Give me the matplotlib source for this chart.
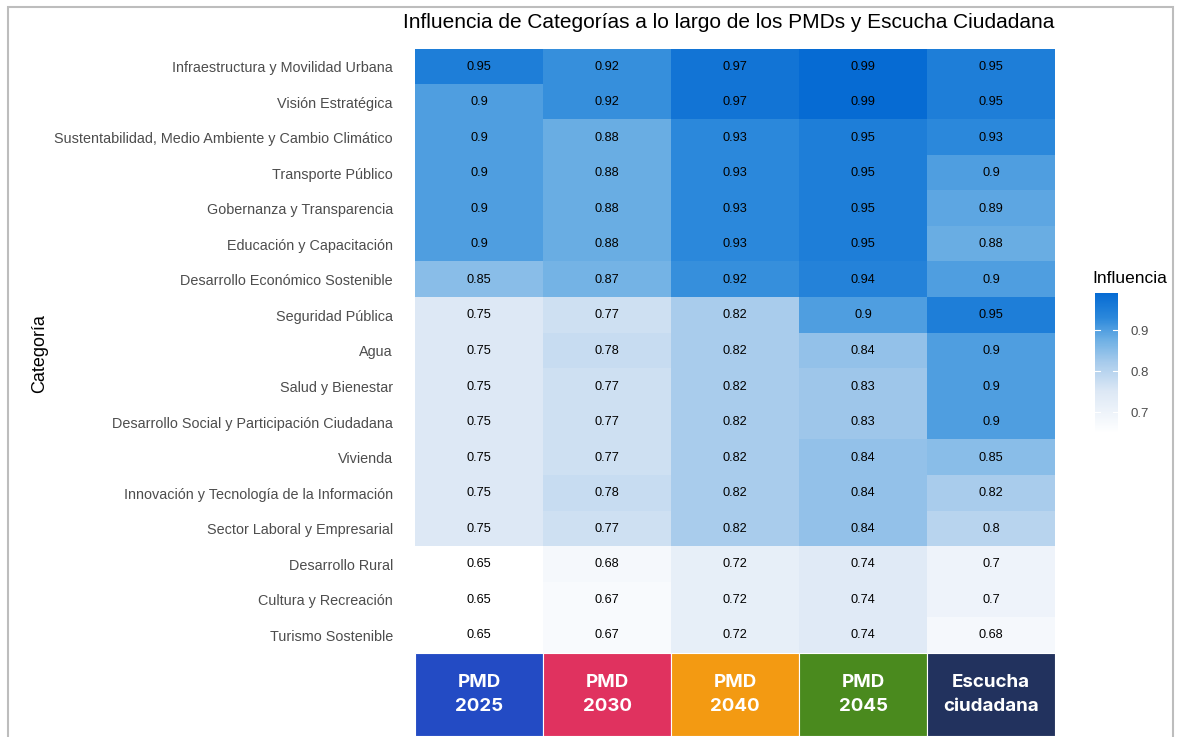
import numpy as np
import matplotlib.pyplot as plt
from matplotlib.colors import LinearSegmentedColormap
from matplotlib.patches import Rectangle

plt.rcParams['font.family'] = ['Liberation Sans', 'DejaVu Sans']

categorias = [
    'Infraestructura y Movilidad Urbana',
    'Visión Estratégica',
    'Sustentabilidad, Medio Ambiente y Cambio Climático',
    'Transporte Público',
    'Gobernanza y Transparencia',
    'Educación y Capacitación',
    'Desarrollo Económico Sostenible',
    'Seguridad Pública',
    'Agua',
    'Salud y Bienestar',
    'Desarrollo Social y Participación Ciudadana',
    'Vivienda',
    'Innovación y Tecnología de la Información',
    'Sector Laboral y Empresarial',
    'Desarrollo Rural',
    'Cultura y Recreación',
    'Turismo Sostenible',
]

fuentes = ['PMD\n2025', 'PMD\n2030', 'PMD\n2040', 'PMD\n2045', 'Escucha\nciudadana']
colores_fuente = ['#234bc4', '#e0325f', '#f39a12', '#4a8a1e', '#22325e']

pmd_2025 = [0.95, 0.9, 0.9, 0.9, 0.9, 0.9, 0.85, 0.75, 0.75, 0.75, 0.75, 0.75, 0.75, 0.75, 0.65, 0.65, 0.65]
pmd_2030 = [0.92, 0.92, 0.88, 0.88, 0.88, 0.88, 0.87, 0.77, 0.78, 0.77, 0.77, 0.77, 0.78, 0.77, 0.68, 0.67, 0.67]
pmd_2040 = [0.97, 0.97, 0.93, 0.93, 0.93, 0.93, 0.92, 0.82, 0.82, 0.82, 0.82, 0.82, 0.82, 0.82, 0.72, 0.72, 0.72]
pmd_2045 = [0.99, 0.99, 0.95, 0.95, 0.95, 0.95, 0.94, 0.9, 0.84, 0.83, 0.83, 0.84, 0.84, 0.84, 0.74, 0.74, 0.74]
escucha = [0.95, 0.95, 0.93, 0.9, 0.89, 0.88, 0.9, 0.95, 0.9, 0.9, 0.9, 0.85, 0.82, 0.8, 0.7, 0.7, 0.68]

data = np.column_stack([pmd_2025, pmd_2030, pmd_2040, pmd_2045, escucha])
vmin, vmax = 0.65, 0.99

# white -> blue gradient
stops = [(0.65, '#ffffff'), (0.75, '#dde8f5'), (0.82, '#a9ccec'),
         (0.88, '#6aaee4'), (0.93, '#2b88db'), (0.99, '#066bd3')]
cmap = LinearSegmentedColormap.from_list(
    'influencia', [((v - vmin) / (vmax - vmin), c) for v, c in stops])

W, H = 1177, 737
fig = plt.figure(figsize=(W / 100, H / 100), dpi=100)


def box(x0, y0, x1, y1):
    return [x0 / W, 1 - y1 / H, (x1 - x0) / W, (y1 - y0) / H]


ax = fig.add_axes(box(415, 49, 1055, 653))
im = ax.imshow(data, aspect='auto', cmap=cmap, vmin=vmin, vmax=vmax,
               interpolation='nearest')
for i in range(data.shape[0]):
    for j in range(data.shape[1]):
        ax.text(j, i, f'{data[i, j]:g}', ha='center', va='center',
                fontsize=9.2, color='black')
ax.set_yticks(range(len(categorias)))
ax.set_yticklabels(categorias, fontsize=10.4, color='#4d4d4d')
ax.set_xticks([])
ax.tick_params(axis='y', length=0, pad=16)
for s in ax.spines.values():
    s.set_visible(False)

# coloured source boxes under the columns
lab = fig.add_axes(box(415, 653, 1055, 736))
lab.set_xlim(-0.5, len(fuentes) - 0.5)
lab.set_ylim(0, 1)
lab.axis('off')
for j, (txt, col) in enumerate(zip(fuentes, colores_fuente)):
    lab.add_patch(Rectangle((j - 0.5, 0), 1, 1, facecolor=col,
                            edgecolor='white', lw=0.8))
    lab.text(j, 0.5, txt, ha='center', va='center', color='white',
             fontsize=13.5, fontweight='bold', family=['Inter', 'DejaVu Sans'],
             linespacing=1.55)

# colour bar
cax = fig.add_axes(box(1095, 293, 1118, 433))
cb = fig.colorbar(im, cax=cax, ticks=[0.7, 0.8, 0.9])
cb.outline.set_visible(False)
cax.tick_params(length=0, pad=9, labelsize=9.5, labelcolor='#4d4d4d')
for v in [0.7, 0.8, 0.9]:
    cax.plot([0, 0.2], [v, v], color='white', lw=0.8)
    cax.plot([0.8, 1], [v, v], color='white', lw=0.8)
fig.text(1092 / W, 1 - 278 / H, 'Influencia', fontsize=12.5, va='center',
         ha='left', color='black')

fig.text(40 / W, 1 - 354 / H, 'Categoría', rotation=90, fontsize=13,
         ha='center', va='center', color='black')

fig.text(729 / W, 1 - 22 / H,
         'Influencia de Categorías a lo largo de los PMDs y Escucha Ciudadana',
         fontsize=15, ha='center', va='center', color='black')

# outer frame
fig.add_artist(Rectangle((8 / W, -0.02), (1173 - 8) / W, 1 - 7 / H + 0.02,
                         transform=fig.transFigure, fill=False,
                         edgecolor='#bdbdbd', lw=1.5))

fig.savefig('out.png', dpi=100)
